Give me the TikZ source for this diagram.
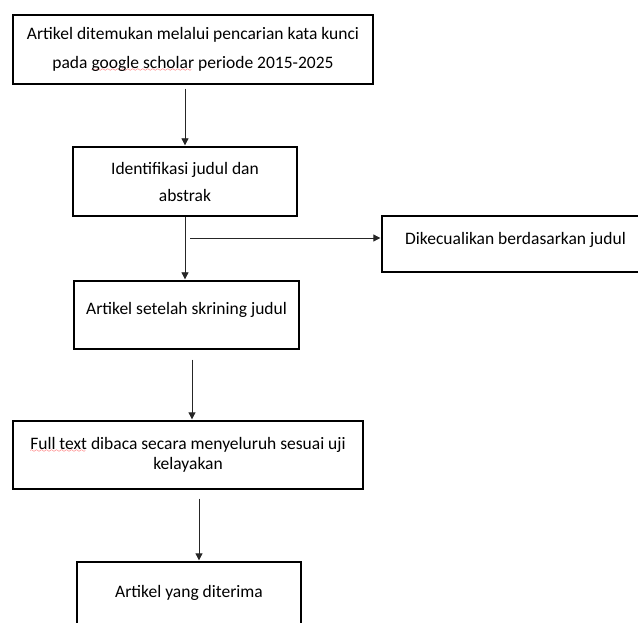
\documentclass[tikz,border=0pt]{standalone}
\usepackage{fontspec}
\setmainfont{Carlito}
\usepackage{tikz}
\usetikzlibrary{arrows.meta, positioning}
\font\wavefont=lasy6
\newcommand\spellwave[1]{\setbox0\hbox{#1}\rlap{\textcolor{red}{\lower3.5pt\hbox to \wd0{\leaders\hbox{\wavefont\char58}\hfill}}}#1}
\tikzset{box/.style={draw=black, line width=1.3pt, align=center, inner sep=0pt, font=\fontsize{17.5}{29}\selectfont},
    flow/.style={-{Triangle[width=7pt,length=7pt]}, line width=0.8pt, draw=black!85, shorten >=1pt}}

\begin{document}
\begin{tikzpicture}[x=1pt,y=-1pt]
    \clip (0,0) rectangle (638,623);
    \node[box, minimum width=360pt, minimum height=69pt] (found) at (193,49.5)
        {Artikel ditemukan melalui pencarian kata kunci\\pada \spellwave{google scholar} periode 2015-2025};
    \node[box, minimum width=224pt, minimum height=69pt, font=\fontsize{17.5}{27}\selectfont] (ident) at (185,181.5)
        {Identifikasi judul dan\\abstrak};
    \node[box, minimum width=225pt, minimum height=68pt, text depth=14pt] (screen) at (186.5,315)
        {Artikel setelah skrining judul};
    \node[box, minimum width=267pt, minimum height=56pt, text depth=12pt] (excl) at (515.5,244)
        {Dikecualikan berdasarkan judul};
    \node[box, minimum width=350pt, minimum height=68pt, font=\fontsize{17.5}{20.5}\selectfont] (full) at (188,455)
        {\spellwave{Full text} dibaca secara menyeluruh sesuai uji\\kelayakan};
    \node[box, minimum width=224pt, minimum height=68pt, text depth=10pt] (accepted) at (189,596)
        {Artikel yang diterima};

    \draw[flow, shorten <=4pt] (found.south -| ident.north) -- (ident.north);
    \draw[flow] (ident.south) -- (ident.south |- screen.north);
    \coordinate (split) at (190,238);
    \draw[flow] (split) -- (split -| excl.west);
    \draw[flow, shorten <=10pt] ([xshift=5.5pt]screen.south) -- ([xshift=5.5pt]screen.south |- full.north);
    \draw[flow, shorten <=9pt] ([xshift=11pt]full.south) -- ([xshift=11pt]full.south |- accepted.north);
\end{tikzpicture}
\end{document}
